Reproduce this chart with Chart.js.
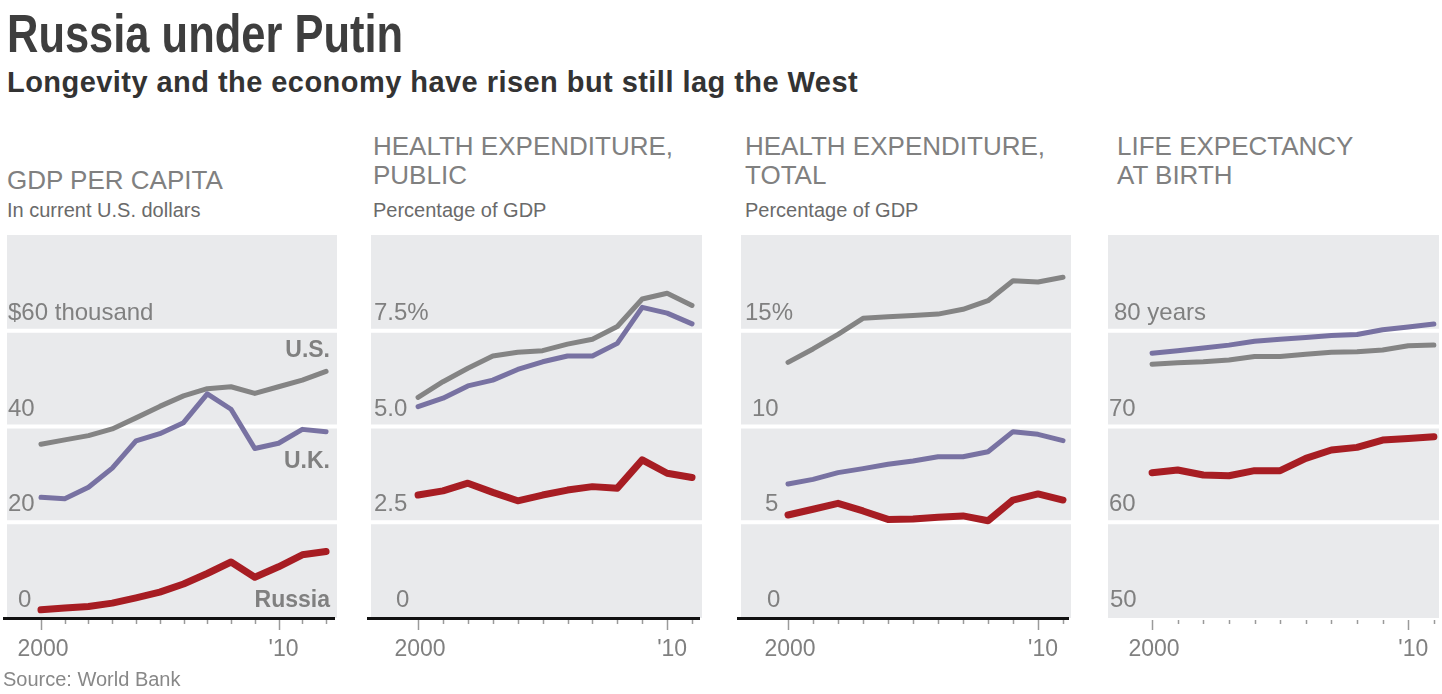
<!DOCTYPE html>
<html>
<head>
<meta charset="utf-8">
<script src="https://cdn.jsdelivr.net/npm/chart.js@4.4.1/dist/chart.umd.min.js"></script>
<style>
  body { margin: 0; width: 1442px; height: 694px; background: #fff; position: relative; overflow: hidden;
         font-family: "Liberation Sans", Arial, sans-serif; }
  .t { position: absolute; white-space: nowrap; line-height: 1; }
  #title { left: 7px; top: 7px; font-size: 53px; font-weight: bold; color: #3e3e3e;
           transform: scaleX(0.82); transform-origin: left top; }
  #subtitle { left: 7px; top: 68px; font-size: 29px; font-weight: bold; color: #333; letter-spacing: 0.45px; }
  .ptitle { font-size: 26px; color: #808080; line-height: 29px; }
  .psub { font-size: 20px; color: #6a6a6a; top: 200px; }
  #source { left: 3px; top: 669px; font-size: 20px; color: #888; }
  canvas { position: absolute; top: 225px; }
</style>
</head>
<body>
<div class="t" id="title">Russia under Putin</div>
<div class="t" id="subtitle">Longevity and the economy have risen but still lag the West</div>

<div class="t ptitle" style="left:7px; top:166px;">GDP PER CAPITA</div>
<div class="t ptitle" style="left:373px; top:132px;">HEALTH EXPENDITURE,<br>PUBLIC</div>
<div class="t ptitle" style="left:745px; top:132px;">HEALTH EXPENDITURE,<br>TOTAL</div>
<div class="t ptitle" style="left:1117px; top:132px;">LIFE EXPECTANCY<br>AT BIRTH</div>

<div class="t psub" style="left:7px;">In current U.S. dollars</div>
<div class="t psub" style="left:373px;">Percentage of GDP</div>
<div class="t psub" style="left:745px;">Percentage of GDP</div>

<canvas id="gdp" width="350" height="445" style="left:0px"></canvas>
<canvas id="pub" width="360" height="445" style="left:355px"></canvas>
<canvas id="tot" width="360" height="445" style="left:725px"></canvas>
<canvas id="life" width="347" height="445" style="left:1095px"></canvas>

<div class="t" id="source">Source: World Bank</div>

<script>
// years
const gdpYears = [2000, 2001, 2002, 2003, 2004, 2005, 2006, 2007, 2008, 2009, 2010, 2011, 2012];
const healthYears = [2000, 2001, 2002, 2003, 2004, 2005, 2006, 2007, 2008, 2009, 2010, 2011];

// GDP per capita, thousands of current US dollars
const gdpUS = [36.3, 37.2, 38.1, 39.5, 41.8, 44.2, 46.4, 47.9, 48.3, 46.9, 48.3, 49.7, 51.5];
const gdpUK = [25.2, 24.9, 27.3, 31.3, 37.0, 38.5, 40.8, 46.8, 43.6, 35.4, 36.5, 39.4, 38.9];
const gdpRussia = [1.7, 2.1, 2.4, 3.1, 4.2, 5.4, 7.1, 9.3, 11.7, 8.5, 10.7, 13.2, 13.9];

// public health expenditure, % of GDP
const pubUS = [5.76, 6.17, 6.52, 6.84, 6.94, 6.98, 7.15, 7.28, 7.61, 8.33, 8.48, 8.16];
const pubUK = [5.52, 5.74, 6.06, 6.21, 6.49, 6.69, 6.84, 6.84, 7.17, 8.11, 7.96, 7.68];
const pubRussia = [3.21, 3.32, 3.52, 3.28, 3.06, 3.21, 3.34, 3.43, 3.39, 4.13, 3.78, 3.67];

// total health expenditure, % of GDP
const totUS = [13.35, 14.05, 14.81, 15.65, 15.73, 15.79, 15.87, 16.12, 16.57, 17.61, 17.55, 17.79];
const totUK = [7.0, 7.24, 7.59, 7.8, 8.03, 8.2, 8.42, 8.42, 8.68, 9.73, 9.59, 9.26];
const totRussia = [5.38, 5.68, 5.99, 5.59, 5.15, 5.17, 5.26, 5.33, 5.08, 6.16, 6.48, 6.16];

// life expectancy at birth, years
const lifeUS = [76.5, 76.66, 76.77, 76.95, 77.3, 77.3, 77.54, 77.75, 77.8, 77.99, 78.44, 78.51];
const lifeUK = [77.65, 77.9, 78.2, 78.5, 78.9, 79.1, 79.3, 79.5, 79.6, 80.1, 80.4, 80.7];
const lifeRussia = [65.18, 65.46, 64.93, 64.86, 65.39, 65.39, 66.67, 67.55, 67.82, 68.58, 68.75, 68.93];

// y tick values and labels
const gdpTicks = [0, 20, 40, 60];
const gdpTickLabels = ['0', '20', '40', '$60 thousand'];
const pubTicks = [0, 2.5, 5, 7.5];
const pubTickLabels = ['0', '2.5', '5.0', '7.5%'];
const totTicks = [0, 5, 10, 15];
const totTickLabels = ['0', '5', '10', '15%'];
const lifeTicks = [50, 60, 70, 80];
const lifeTickLabels = ['50', '60', '70', '80 years'];

// x tick labels
const yearLabels = { 2000: '2000', 2010: "'10" };

const GRAY = '#848484';
const PURPLE = '#7872a2';
const RED = '#a71d23';
const FONT = '"Liberation Sans", Arial, sans-serif';

const panelPlugin = {
  id: 'panel',
  beforeDatasetsDraw(chart, args, opts) {
    const { ctx, chartArea: a, scales: { y } } = chart;
    ctx.save();
    ctx.fillStyle = '#e9eaec';
    ctx.fillRect(a.left, a.top, a.right - a.left, a.bottom - a.top);

    ctx.fillStyle = '#fff';
    opts.ticks.forEach(v => {
      if (v <= y.min || v >= y.max) return;
      const py = y.getPixelForValue(v);
      ctx.fillRect(a.left, py - 2, a.right - a.left, 4);
    });

    ctx.font = '24px ' + FONT;
    ctx.fillStyle = '#808080';
    ctx.textAlign = 'left';
    ctx.textBaseline = 'alphabetic';
    opts.ticks.forEach((v, i) => {
      const py = y.getPixelForValue(v);
      ctx.fillText(opts.labels[i], a.left + opts.labelX[i], py - 11);
    });

    // series names (first panel only)
    ctx.font = 'bold 23px ' + FONT;
    ctx.textAlign = 'right';
    (opts.names || []).forEach(n => {
      ctx.fillText(n.text, a.right - 7, y.getPixelForValue(n.y));
    });
    ctx.restore();
  },
  afterDatasetsDraw(chart, args, opts) {
    const { ctx, chartArea: a, scales: { x } } = chart;
    ctx.save();
    if (opts.baseline) {
      ctx.fillStyle = '#111';
      ctx.fillRect(a.left - 4, a.bottom - 1, a.right - a.left + 2, 3);
    }
    ctx.strokeStyle = '#9a9a9a';
    ctx.lineWidth = 1.5;
    opts.years.forEach(yr => {
      const px = Math.round(x.getPixelForValue(yr)) + 0.5;
      const major = yr in yearLabels;
      ctx.beginPath();
      ctx.moveTo(px, a.bottom + 2);
      ctx.lineTo(px, a.bottom + (major ? 12 : 6));
      ctx.stroke();
    });
    ctx.font = '23px ' + FONT;
    ctx.fillStyle = '#808080';
    ctx.textAlign = 'center';
    ctx.fillText(yearLabels[2000], x.getPixelForValue(2000) + 2, a.bottom + 38);
    ctx.fillText(yearLabels[2010], x.getPixelForValue(2010) + 5, a.bottom + 38);
    ctx.restore();
  }
};

function line(data, color, width) {
  return {
    data: data,
    borderColor: color,
    borderWidth: width,
    borderCapStyle: 'round',
    borderJoinStyle: 'round',
    pointRadius: 0,
    tension: 0,
    clip: false
  };
}

function makePanel(id, years, us, uk, ru, yMin, yMax, xMin, xMax, pad, panelOpts) {
  const toXY = arr => arr.map((v, i) => ({ x: years[i], y: v }));
  new Chart(document.getElementById(id), {
    type: 'line',
    data: {
      datasets: [
        line(toXY(ru), RED, 7),
        line(toXY(uk), PURPLE, 5),
        line(toXY(us), GRAY, 5)
      ]
    },
    options: {
      responsive: false,
      animation: false,
      layout: { padding: pad },
      scales: {
        x: { type: 'linear', min: xMin, max: xMax, display: false },
        y: { min: yMin, max: yMax, display: false }
      },
      plugins: {
        legend: { display: false },
        tooltip: { enabled: false },
        panel: Object.assign({ years: years }, panelOpts)
      }
    },
    plugins: [panelPlugin]
  });
}

makePanel('gdp', gdpYears, gdpUS, gdpUK, gdpRussia, 0, 80, 1998.57, 2012.46,
  { left: 7, right: 13, top: 10, bottom: 52 },
  { ticks: gdpTicks, labels: gdpTickLabels, labelX: [11, 1, 1, 1], baseline: true,
    names: [{ text: 'U.S.', y: 54.5 }, { text: 'U.K.', y: 31.3 }, { text: 'Russia', y: 2.3 }] });

makePanel('pub', healthYears, pubUS, pubUK, pubRussia, 0, 10, 1998.11, 2011.4,
  { left: 16, right: 13, top: 10, bottom: 52 },
  { ticks: pubTicks, labels: pubTickLabels, labelX: [25, 3, 3, 3], baseline: true });

makePanel('tot', healthYears, totUS, totUK, totRussia, 0, 20, 1998.12, 2011.32,
  { left: 16, right: 14, top: 10, bottom: 52 },
  { ticks: totTicks, labels: totTickLabels, labelX: [26, 24, 11, 4], baseline: true });

makePanel('life', healthYears, lifeUS, lifeUK, lifeRussia, 50, 90, 1998.28, 2011.2,
  { left: 13, right: 3, top: 10, bottom: 52 },
  { ticks: lifeTicks, labels: lifeTickLabels, labelX: [2, 1, 1, 6], baseline: false });
</script>
</body>
</html>
